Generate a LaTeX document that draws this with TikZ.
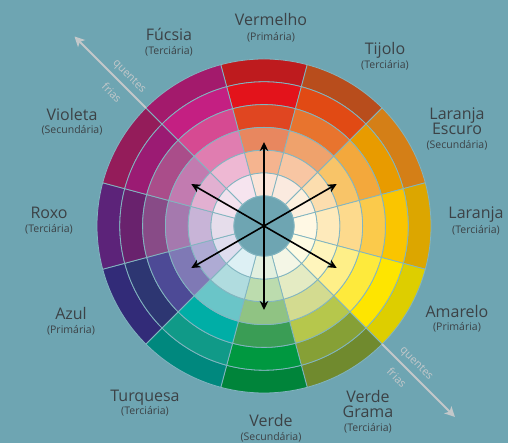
\documentclass[tikz,border=0pt]{standalone}
\usepackage{fontspec}
\setmainfont{Open Sans}
\usepackage{tikz}
\usetikzlibrary{arrows.meta,calc}

\definecolor{bg}{HTML}{6EA5B2}
\definecolor{sep}{HTML}{82B5C0}
\definecolor{ink}{HTML}{3C4246}
\definecolor{tempgray}{HTML}{C3C8CA}

\tikzset{
  cell/.style={draw=sep, line width=0.8pt},
  nm/.style={anchor=base, inner sep=0pt, text height=11.5pt, text depth=3.5pt, text=ink, font=\fontsize{16}{18}\selectfont},
  sub/.style={anchor=base, inner sep=0pt, text height=8pt, text depth=2.2pt, text=ink, font=\fontsize{10.5}{12}\selectfont},
  mix/.style={line width=1.6pt, -{Stealth[length=9pt,width=8.5pt]}},
  temp/.style={draw=tempgray, line width=2pt, -{Stealth[length=10pt,width=10pt,inset=2.5pt]}},
  templbl/.style={text=tempgray, rotate=-45, inner sep=0pt, font=\fontsize{11}{12}\selectfont}
}

\begin{document}
\begin{tikzpicture}[x=1pt,y=1pt]
\fill[bg] (0,0) rectangle (508,443);
\useasboundingbox (0,0) rectangle (508,443);
\coordinate (ctr) at (264,217);

% wheel: 12 hues, outer ring first
\begin{scope}[shift={(ctr)}]
\foreach \a/\cols in {
   90/{BE1B1E,E3131B,E04621,E8875F,F5B48F,FBE5D9},
   60/{B84D1C,E14A14,E8742E,EFA26C,F8C6A3,FBEADF},
   30/{D47F17,E89B00,F3A83C,F8C468,FCDDAE,FDF0DE},
    0/{DCA600,FAC500,FBCA4B,FDDA8D,FEEABB,FFF8E4},
  -30/{DDCE00,FEE500,FEEA3C,FEEF88,FFF5BC,FEFBE3},
  -60/{708A2E,86A036,B6C74C,D3DB90,E4EBC3,F4F6E6},
  -90/{00843A,009840,3A9D55,90C383,BCDCAE,E3F0DF},
 -120/{00887E,109A88,00AEA6,6AC5C8,B0DCDF,DDF0F4},
 -150/{322B78,2D3672,4D4A96,7F79B5,AEABD4,DFDDEE},
  180/{5C2379,69226D,884B87,A579AE,C8B4D7,E6DDEB},
  150/{941C5A,9B1B73,AA4D8A,C27BB0,E2B0D1,F2E2EE},
  120/{A31A6C,C41F82,D64A92,E07DB0,EEB8D3,F6E4EF}}{
  \foreach \c [count=\k] in \cols {
    \pgfmathsetmacro\ro{167-(\k-1)*22.8}
    \pgfmathsetmacro\ri{\ro-22.8}
    \definecolor{cellfill}{HTML}{\c}
    \filldraw[cell, fill=cellfill] (\a-15:\ro pt) arc[start angle=\a-15, end angle=\a+15, radius=\ro pt]
      -- (\a+15:\ri pt) arc[start angle=\a+15, end angle=\a-15, radius=\ri pt] -- cycle;
  }
}
\filldraw[cell, fill=bg] (0,0) circle[radius=30pt];
\end{scope}

% complementary arrows
\foreach \a [count=\i] in {90,30,-30,-90,-150,150}{
  \coordinate (tip\i) at ($(ctr)+(\a:84pt)$);
  \draw[mix] (ctr) -- (tip\i);
}

% warm / cold axis
\coordinate (axisA) at ($(ctr)+(135:167pt)$);
\coordinate (axisAend) at ($(ctr)+(135:268pt)$);
\coordinate (axisB) at ($(ctr)+(-45:167pt)$);
\coordinate (axisBend) at ($(ctr)+(-45:270pt)$);
\draw[temp] (axisA) -- (axisAend);
\draw[temp] (axisB) -- (axisBend);
\node[templbl] (warmA) at ($(ctr)+(135:201pt)+(45:10pt)$) {quentes};
\node[templbl] (coldA) at ($(ctr)+(135:202pt)+(-135:13pt)$) {frias};
\node[templbl] (warmB) at ($(ctr)+(-45:205pt)+(45:10pt)$) {quentes};
\node[templbl] (coldB) at ($(ctr)+(-45:201pt)+(-135:13pt)$) {frias};

% labels
\node[nm] (verm) at (271,417) {Vermelho};
\node[sub] (vermsub) at ([yshift=-15pt]verm.base) {(Primária)};
\node[nm] (fucs) at (169,402) {Fúcsia};
\node[sub] (fucssub) at ([yshift=-14pt]fucs.base) {(Terciária)};
\node[nm] (tijo) at (385,388) {Tijolo};
\node[sub] (tijosub) at ([yshift=-13.5pt]tijo.base) {(Terciária)};
\node[nm] (laresc) at (457,323.5) {Laranja};
\node[nm] (laresc2) at ([yshift=-15.5pt]laresc.base) {Escuro};
\node[sub] (larescsub) at ([yshift=-13.5pt]laresc2.base) {(Secundária)};
\node[nm] (lara) at (476,224) {Laranja};
\node[sub] (larasub) at ([yshift=-14.5pt]lara.base) {(Terciária)};
\node[nm] (amar) at (457,125.5) {Amarelo};
\node[sub] (amarsub) at ([yshift=-13.5pt]amar.base) {(Primária)};
\node[nm] (vgram) at (368,40.5) {Verde};
\node[nm] (vgram2) at ([yshift=-15.5pt]vgram.base) {Grama};
\node[sub] (vgramsub) at ([yshift=-14pt]vgram2.base) {(Terciária)};
\node[nm] (verd) at (271,16.5) {Verde};
\node[sub] (verdsub) at ([yshift=-14.5pt]verd.base) {(Secundária)};
\node[nm] (turq) at (145,41.5) {Turquesa};
\node[sub] (turqsub) at ([yshift=-13.5pt]turq.base) {(Terciária)};
\node[nm] (azul) at (71,123) {Azul};
\node[sub] (azulsub) at ([yshift=-13.5pt]azul.base) {(Primária)};
\node[nm] (roxo) at (49,224) {Roxo};
\node[sub] (roxosub) at ([yshift=-14pt]roxo.base) {(Terciária)};
\node[nm] (viol) at (72,322.5) {Violeta};
\node[sub] (violsub) at ([yshift=-13.5pt]viol.base) {(Secundária)};
\end{tikzpicture}
\end{document}
